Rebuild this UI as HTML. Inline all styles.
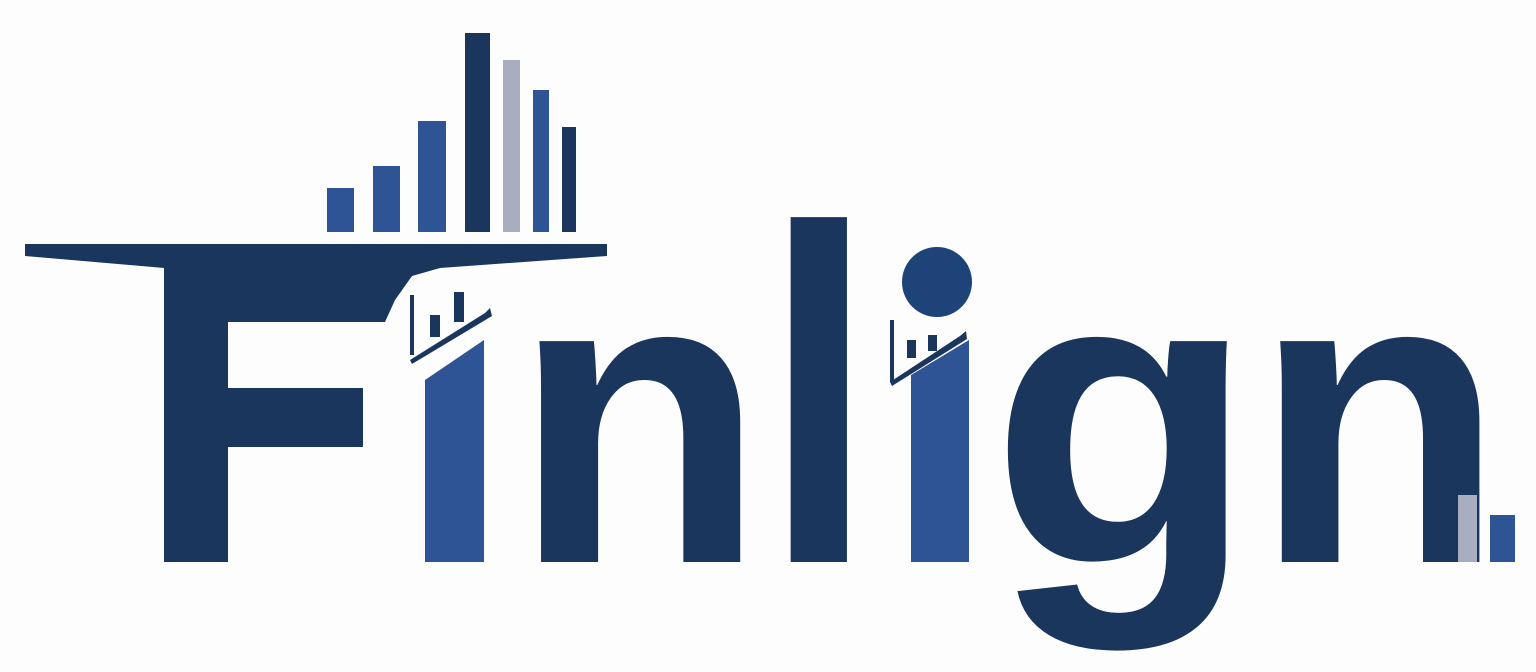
<!DOCTYPE html>
<html><head><meta charset="utf-8"><style>
html,body{margin:0;padding:0;background:#fdfdfd;}
svg{display:block;}
text{font-family:"Liberation Sans",sans-serif;font-weight:bold;}
</style></head><body>
<svg id="logo" width="1536" height="672" viewBox="0 0 1536 672" xmlns="http://www.w3.org/2000/svg">
  <rect width="1536" height="672" fill="#fdfdfd"/>
  <g id="bars"></g>
  <polygon fill="#1b365d" points="25,244 607,244 607,256 440,268 412,276 395,300 385,322 228,322 228,272 164,268 25,256"/>
  <text style="display:none">F</text>
  <rect x="164" y="265" width="64" height="297" fill="#1b365d"/>
  <rect x="228" y="388" width="135" height="59" fill="#1b365d"/>
  <polygon fill="#2f5496" points="425,380 484,340 484,562 425,562"/>
  <text style="display:none">i</text>
  <g fill="#1b365d">
    <rect x="410" y="295" width="4" height="60"/><rect x="430" y="315" width="10" height="22"/><rect x="454" y="292" width="10" height="30"/>
    <polygon points="410,360 485,313 490,308 492,316 412,364"/>
  </g>
  <text x="512" y="562" font-size="418" fill="#1b365d" textLength="254" lengthAdjust="spacingAndGlyphs">n</text>
  <text x="762" y="562" font-size="476" fill="#1b365d" textLength="114" lengthAdjust="spacingAndGlyphs">l</text>
  <polygon fill="#2f5496" points="911,375 969,340 969,562 911,562"/>
  <text style="display:none">i</text>
  <circle cx="937" cy="282" r="35" fill="#1e4378"/>
  <g fill="#1b365d">
    <rect x="890" y="320" width="4" height="62"/><rect x="907" y="340" width="9" height="18"/><rect x="928" y="335" width="9" height="16"/>
    <polygon points="890,382 960,336 966,331 967,339 892,386"/>
  </g>
  <text x="990" y="562" font-size="418" fill="#1b365d" textLength="266" lengthAdjust="spacingAndGlyphs">g</text>
  <text x="1253" y="562" font-size="418" fill="#1b365d" textLength="252" lengthAdjust="spacingAndGlyphs">n</text>
  <rect x="1458" y="495" width="19" height="67" fill="#a9adc0"/>
  <rect x="1490" y="515" width="25" height="47" fill="#2f5496"/>
</svg>
<script>
const barValues = [44, 66, 111, 199, 172, 142, 105];
const barColors = ["#2f5496","#2f5496","#2f5496","#1b365d","#a9adc0","#2f5496","#1b365d"];
const barX = [327, 373, 418, 465, 503, 533, 562];
const barW = [27, 27, 28, 25, 17, 16, 14];
const baseY = 232;
const g = document.getElementById('bars');
barValues.forEach((v, i) => {
  const r = document.createElementNS('http://www.w3.org/2000/svg', 'rect');
  r.setAttribute('x', barX[i]);
  r.setAttribute('y', baseY - v);
  r.setAttribute('width', barW[i]);
  r.setAttribute('height', v);
  r.setAttribute('fill', barColors[i]);
  
  
  g.appendChild(r);
});
</script>
</body></html>
